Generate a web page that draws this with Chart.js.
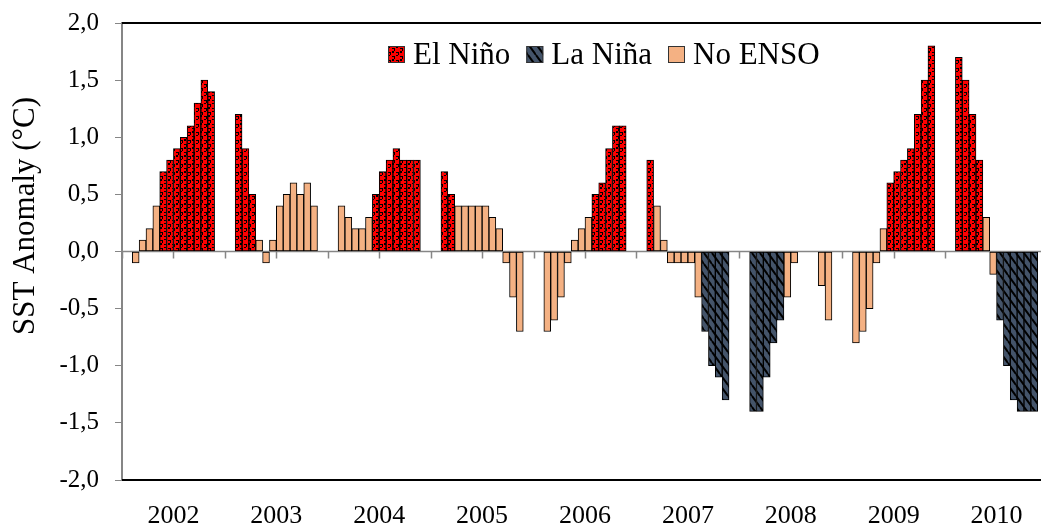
<!DOCTYPE html>
<html>
<head>
<meta charset="utf-8">
<script src="https://cdn.jsdelivr.net/npm/chart.js@4"></script>
<style>
  html, body { margin: 0; padding: 0; background: #fff; overflow: hidden; }
  #wrap { width: 1050px; height: 525px; overflow: hidden; }
  #ensoChart { width: 1050px; height: 525px; }
</style>
</head>
<body>
<div id="wrap"><canvas id="ensoChart" width="1050" height="525"></canvas></div>
<script>
// Monthly SST anomaly, Jan..Dec per year
const years = ["2002", "2003", "2004", "2005", "2006", "2007", "2008", "2009", "2010"];

const sst = [
  [-0.1, 0.1, 0.2, 0.4, 0.7, 0.8, 0.9, 1.0, 1.1, 1.3, 1.5, 1.4],
  [1.2, 0.9, 0.5, 0.1, -0.1, 0.1, 0.4, 0.5, 0.6, 0.5, 0.6, 0.4],
  [0.4, 0.3, 0.2, 0.2, 0.3, 0.5, 0.7, 0.8, 0.9, 0.8, 0.8, 0.8],
  [0.7, 0.5, 0.4, 0.4, 0.4, 0.4, 0.4, 0.3, 0.2, -0.1, -0.4, -0.7],
  [-0.7, -0.6, -0.4, -0.1, 0.1, 0.2, 0.3, 0.5, 0.6, 0.9, 1.1, 1.1],
  [0.8, 0.4, 0.1, -0.1, -0.1, -0.1, -0.1, -0.4, -0.7, -1.0, -1.1, -1.3],
  [-1.4, -1.4, -1.1, -0.8, -0.6, -0.4, -0.1, null, null, null, -0.3, -0.6],
  [-0.8, -0.7, -0.5, -0.1, 0.2, 0.6, 0.7, 0.8, 0.9, 1.2, 1.5, 1.8],
  [1.7, 1.5, 1.2, 0.8, 0.3, -0.2, -0.6, -1.0, -1.3, -1.4, -1.4, -1.4],
];

// E = El Niño, L = La Niña, N = no ENSO
const phase = [
  "NNNNEEEEEEEE",
  "EEENNNNNNNNN",
  "NNNNNEEEEEEE",
  "EENNNNNNNNNN",
  "NNNNNNNEEEEE",
  "ENNNNNNNLLLL",
  "LLLLLNNNNNNN",
  "NNNNNEEEEEEE",
  "EEEENNLLLLLL",
];

const phaseNames = { E: "El Niño", L: "La Niña", N: "No ENSO" };
const yTicks = [-2, -1.5, -1, -0.5, 0, 0.5, 1, 1.5, 2];
const yTitle = "SST Anomaly (°C)";

const SERIF = "'Liberation Serif', 'Times New Roman', serif";

function makePattern(w, h, draw) {
  const c = document.createElement("canvas");
  c.width = w;
  c.height = h;
  const g = c.getContext("2d");
  draw(g);
  return g.createPattern(c, "repeat");
}

const ninoFill = makePattern(8, 8, function (g) {
  g.fillStyle = "#ff0000";
  g.fillRect(0, 0, 8, 8);
  g.fillStyle = "#000";
  g.fillRect(0, 0, 3, 1);
  g.fillRect(2, 1, 1, 2);
  g.fillRect(0, 3, 2, 2);
  g.fillRect(4, 4, 3, 1);
  g.fillRect(6, 5, 1, 2);
  g.fillRect(4, 7, 2, 1);
});

const ninaFill = makePattern(8, 11, function (g) {
  g.fillStyle = "#44546a";
  g.fillRect(0, 0, 8, 11);
  g.strokeStyle = "#000";
  g.lineWidth = 2;
  [-8, 0, 8].forEach((k) => {
    g.beginPath();
    g.moveTo(k, 0);
    g.lineTo(k + 8, 11);
    g.stroke();
  });
});

const fills = { E: ninoFill, L: ninaFill, N: "#f4b183" };

// each year = 15 slots: 1.5 empty, 12 months, 1.5 empty
function buildData(code) {
  const pts = [];
  sst.forEach((row, yi) => {
    row.forEach((v, m) => {
      if (v !== null && phase[yi][m] === code) {
        pts.push({ x: yi + (m + 2) / 15, y: v });
      }
    });
  });
  return pts;
}

const datasets = ["E", "L", "N"].map((code) => ({
  label: phaseNames[code],
  data: buildData(code),
  backgroundColor: fills[code],
  borderColor: "#000",
  borderWidth: 1,
  borderSkipped: false,
  grouped: false,
  barPercentage: 1,
  categoryPercentage: 1,
}));

const framePlugin = {
  id: "frame",
  beforeDatasetsDraw(chart) {
    const ctx = chart.ctx;
    const a = chart.chartArea;
    const y0 = chart.scales.y.getPixelForValue(0);
    ctx.save();
    ctx.strokeStyle = "#868686";
    ctx.lineWidth = 1.5;
    ctx.beginPath();
    ctx.moveTo(a.left, y0);
    ctx.lineTo(a.right, y0);
    chart.scales.x.ticks.forEach((t) => {
      const x = Math.round(chart.scales.x.getPixelForValue(t.value)) + 0.5;
      ctx.moveTo(x, y0);
      ctx.lineTo(x, y0 + 7);
    });
    ctx.stroke();
    ctx.restore();
  },
  afterDraw(chart) {
    const ctx = chart.ctx;
    const a = chart.chartArea;
    ctx.save();
    ctx.strokeStyle = "#000";
    ctx.lineWidth = 2;
    ctx.beginPath();
    ctx.moveTo(a.left, a.top);
    ctx.lineTo(a.right, a.top);
    ctx.moveTo(a.left, a.bottom);
    ctx.lineTo(a.right, a.bottom);
    ctx.stroke();

    // axis title, sits a bit above the middle as in the original
    ctx.save();
    ctx.translate(34, 216);
    ctx.rotate(-Math.PI / 2);
    ctx.font = "31px " + SERIF;
    ctx.fillStyle = "#000";
    ctx.textAlign = "center";
    ctx.textBaseline = "alphabetic";
    ctx.fillText(yTitle, 0, 0);
    ctx.restore();

    // legend inside plot area
    ctx.font = "31px " + SERIF;
    ctx.textBaseline = "alphabetic";
    let x = 388;
    chart.data.datasets.forEach((ds) => {
      ctx.fillStyle = ds.backgroundColor;
      ctx.fillRect(x, 46, 17, 17);
      ctx.strokeStyle = "#333";
      ctx.lineWidth = 1;
      ctx.strokeRect(x + 0.5, 46.5, 16, 16);
      ctx.fillStyle = "#000";
      ctx.fillText(ds.label, x + 25, 64);
      x += 25 + ctx.measureText(ds.label).width + 16;
    });
    ctx.restore();
  },
};

new Chart(document.getElementById("ensoChart"), {
  type: "bar",
  data: { datasets: datasets },
  options: {
    responsive: false,
    animation: false,
    layout: { padding: { top: 23, right: 2, left: 0, bottom: 0 } },
    plugins: { legend: { display: false }, tooltip: { enabled: false } },
    scales: {
      x: {
        type: "linear",
        min: 0,
        max: 9,
        offset: false,
        grid: { display: false, drawTicks: false, offset: false },
        border: { display: false },
        afterFit: (s) => {
          s.height = 45;
          s.paddingLeft = 0;
          s.paddingRight = 0;
        },
        ticks: {
          stepSize: 0.5,
          autoSkip: false,
          maxRotation: 0,
          padding: 21,
          color: "#000",
          font: { family: SERIF, size: 26 },
          callback: (v) => (v % 1 === 0.5 ? years[Math.floor(v)] : ""),
        },
      },
      y: {
        min: yTicks[0],
        max: yTicks[yTicks.length - 1],
        afterFit: (s) => {
          s.width = 122;
          s.paddingTop = 0;
          s.paddingBottom = 0;
        },
        afterBuildTicks: (s) => { s.ticks = yTicks.map((v) => ({ value: v })); },
        grid: { drawOnChartArea: false, tickLength: 7, color: "#868686", lineWidth: 1 },
        border: { color: "#868686", width: 2 },
        ticks: {
          padding: 16,
          color: "#000",
          font: { family: SERIF, size: 25 },
          callback: (v) => v.toFixed(1).replace(".", ","),
        },
      },
    },
  },
  plugins: [framePlugin],
});
</script>
</body>
</html>
